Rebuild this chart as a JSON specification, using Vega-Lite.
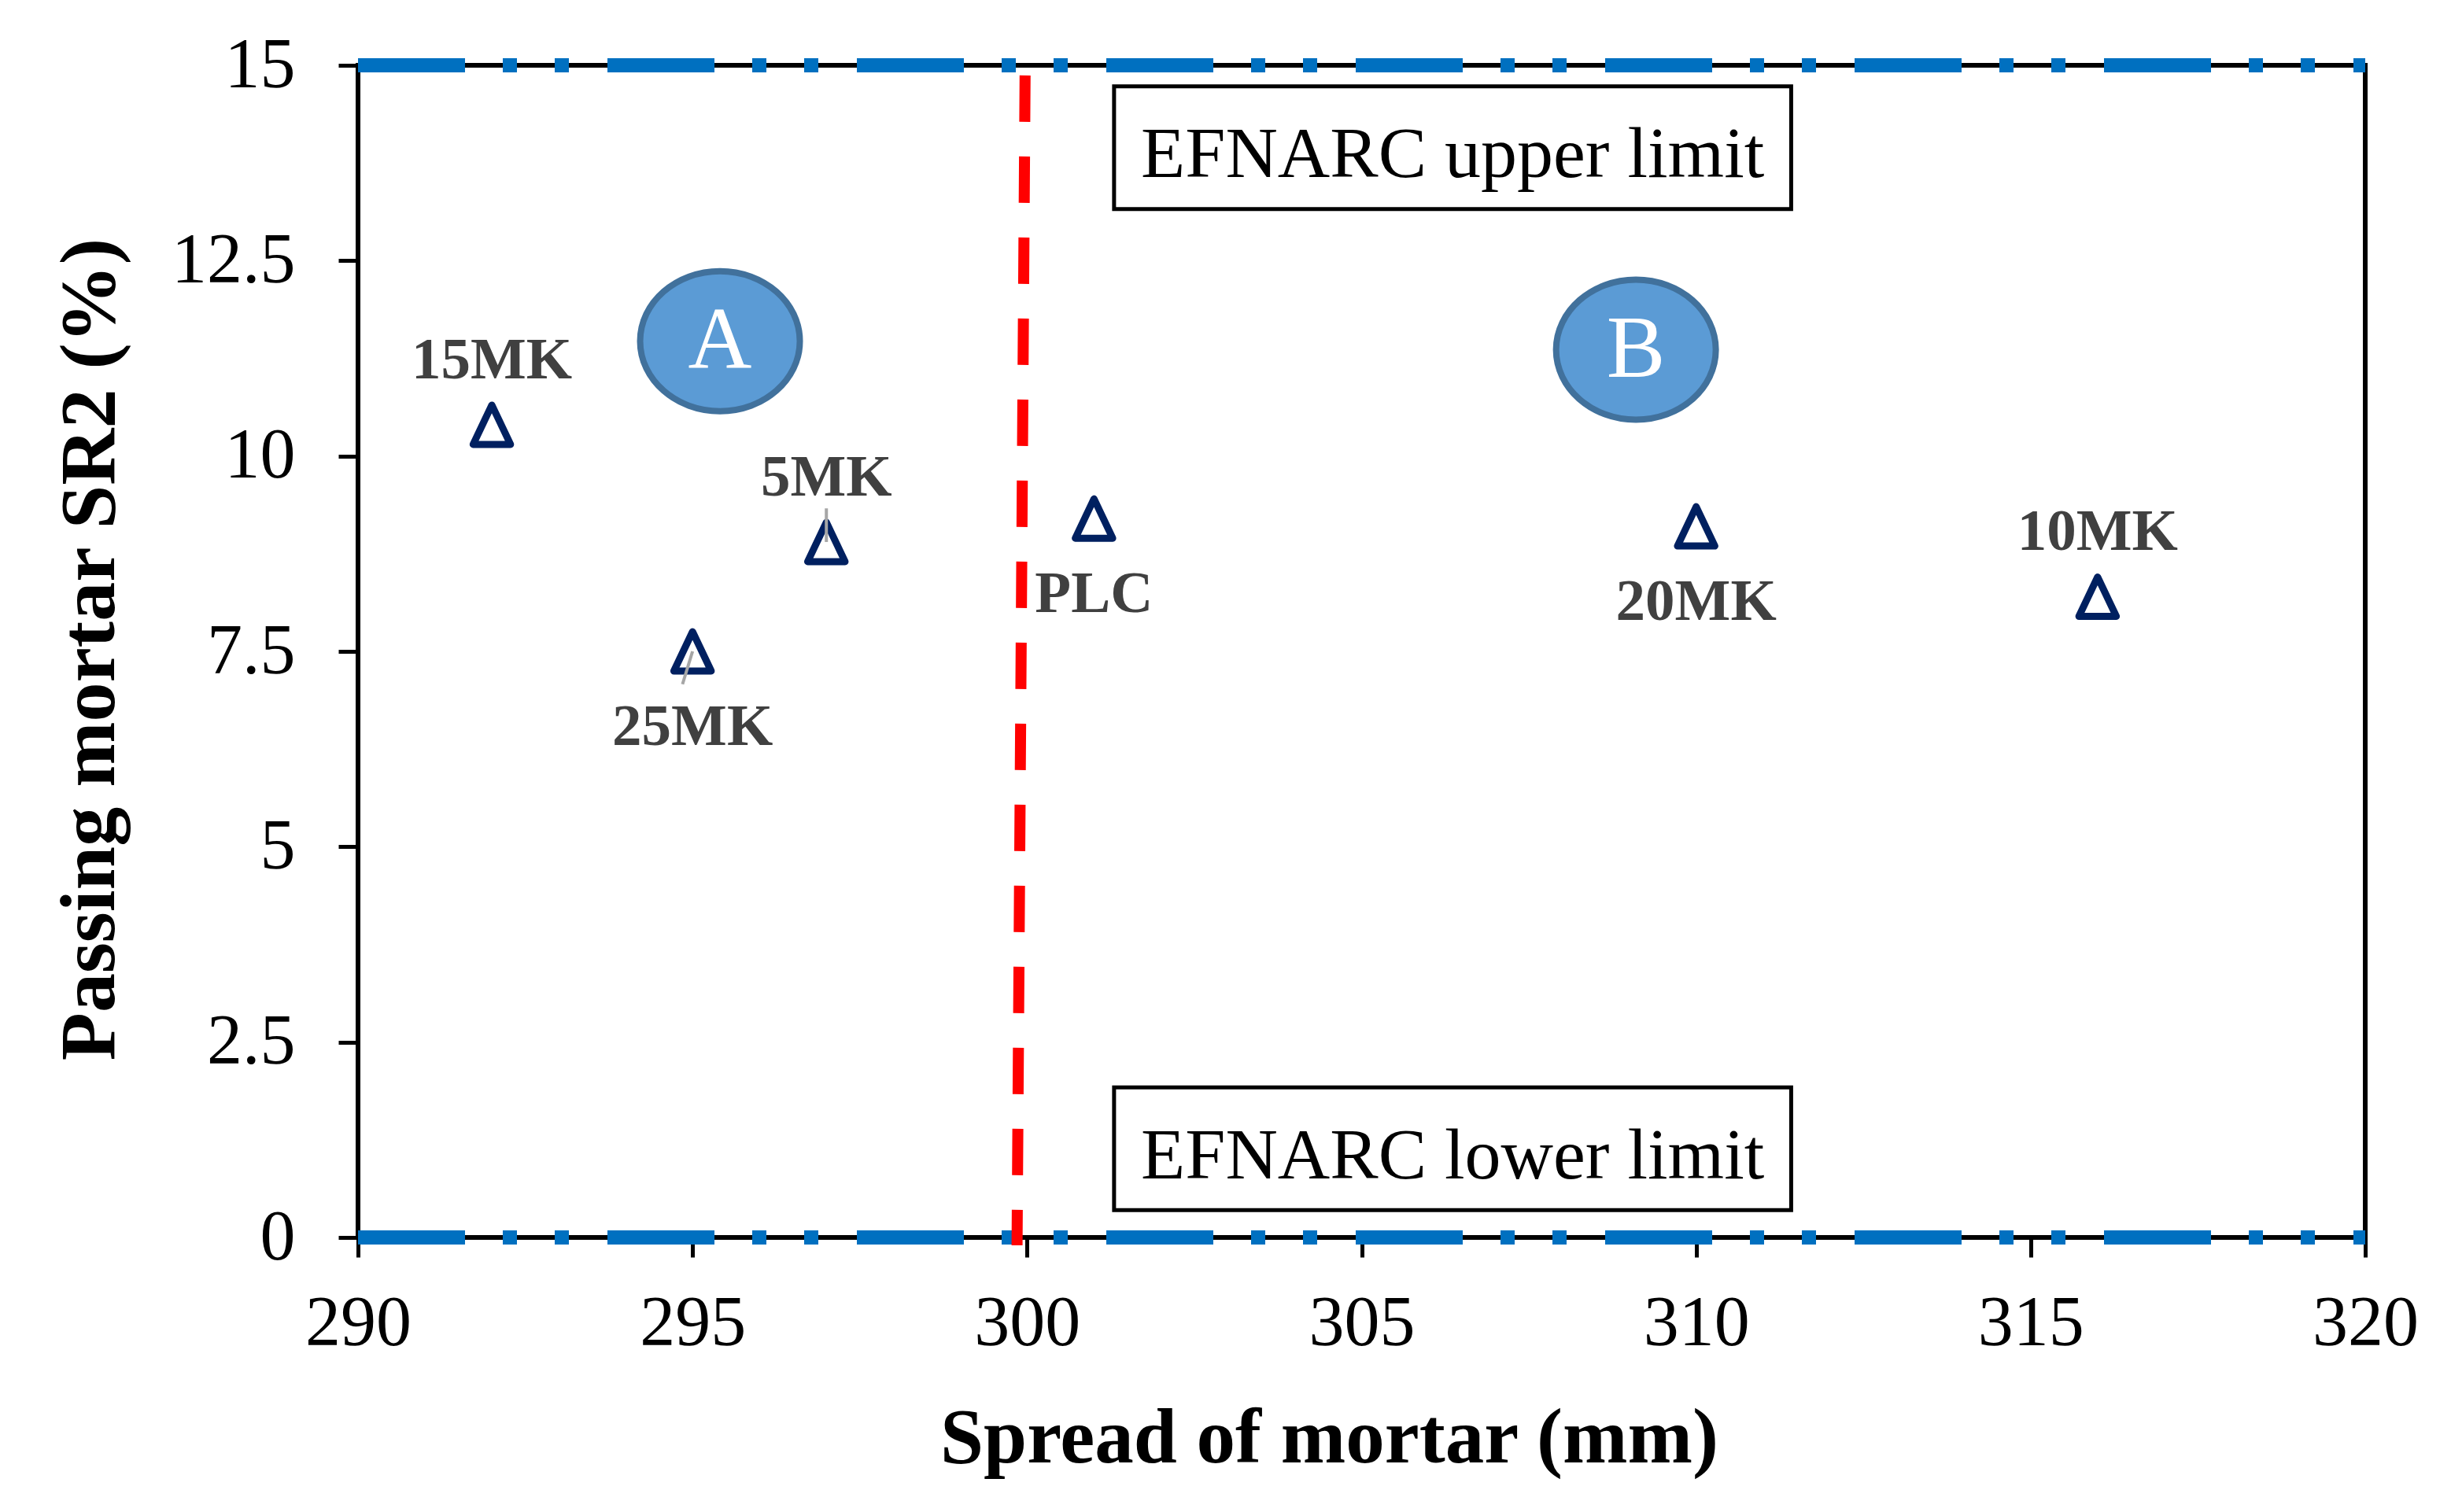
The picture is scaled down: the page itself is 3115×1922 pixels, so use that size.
{
  "$schema": "https://vega.github.io/schema/vega-lite/v6.json",
  "width": 2551,
  "height": 1490,
  "autosize": {"type": "none"},
  "padding": {"left": 455, "top": 83, "right": 109, "bottom": 349},
  "background": "white",
  "config": {
    "view": {"stroke": "black", "strokeWidth": 6},
    "font": "Liberation Serif",
    "text": {"font": "Liberation Serif"}
  },
  "datasets": {
    "points": [
      {"mix": "15MK", "spread": 292, "sr2": 10.4},
      {"mix": "25MK", "spread": 295, "sr2": 7.5},
      {"mix": "5MK", "spread": 297, "sr2": 8.9},
      {"mix": "PLC", "spread": 301, "sr2": 9.2},
      {"mix": "20MK", "spread": 310, "sr2": 9.1},
      {"mix": "10MK", "spread": 316, "sr2": 8.2}
    ],
    "errors": [
      {"mix": "5MK", "x1": 297, "x2": 297, "y1": 8.9, "y2": 9.33},
      {"mix": "25MK", "x1": 295, "x2": 294.85, "y1": 7.5, "y2": 7.08}
    ],
    "limits": [
      {"limit": "EFNARC upper limit", "sr2": 15},
      {"limit": "EFNARC lower limit", "sr2": 0}
    ],
    "boxes": [
      {"label": "EFNARC upper limit", "x1": 301.3, "x2": 311.42, "y1": 14.73, "y2": 13.16, "tx": 306.36, "ty": 13.57},
      {"label": "EFNARC lower limit", "x1": 301.3, "x2": 311.42, "y1": 1.92, "y2": 0.35, "tx": 306.36, "ty": 0.755}
    ],
    "zones": [
      {"zone": "A", "spread": 295.41, "sr2": 11.47},
      {"zone": "B", "spread": 309.1, "sr2": 11.36}
    ],
    "threshold": [
      {"x1": 299.97, "y1": 14.87, "x2": 299.85, "y2": -0.1}
    ]
  },
  "layer": [
    {
      "data": {"name": "boxes"},
      "mark": {"type": "rect", "fill": "white", "stroke": "black", "strokeWidth": 5},
      "encoding": {
        "x": {
          "field": "x1", "type": "quantitative",
          "scale": {"domain": [290, 320], "nice": false, "zero": false},
          "axis": {
            "values": [290, 295, 300, 305, 310, 315, 320],
            "format": "d",
            "domain": false, "grid": false,
            "ticks": true, "tickSize": 25, "tickWidth": 5, "tickColor": "black",
            "labelFont": "Liberation Serif", "labelFontSize": 90, "labelColor": "black",
            "labelPadding": 40, "labelFlush": false, "labelOverlap": false,
            "title": "Spread of mortar (mm)",
            "titleFont": "Liberation Serif", "titleFontSize": 99, "titleFontWeight": "bold",
            "titleColor": "black",
            "titleX": 1234, "titleY": 285, "titleAlign": "center", "titleBaseline": "alphabetic"
          }
        },
        "x2": {"field": "x2"},
        "y": {
          "field": "y1", "type": "quantitative",
          "scale": {"domain": [0, 15], "nice": false, "zero": false},
          "axis": {
            "values": [0, 2.5, 5, 7.5, 10, 12.5, 15],
            "format": "~g",
            "domain": false, "grid": false,
            "ticks": true, "tickSize": 25, "tickWidth": 5, "tickColor": "black",
            "labelFont": "Liberation Serif", "labelFontSize": 90, "labelColor": "black",
            "labelPadding": 55, "labelFlush": false, "labelOverlap": false,
            "title": "Passing mortar SR2 (%)",
            "titleFont": "Liberation Serif", "titleFontSize": 100, "titleFontWeight": "bold",
            "titleColor": "black", "titleAngle": -90,
            "titleX": -311, "titleY": 742, "titleAlign": "center", "titleBaseline": "alphabetic"
          }
        },
        "y2": {"field": "y2"}
      }
    },
    {
      "data": {"name": "boxes"},
      "mark": {"type": "text", "fontSize": 92, "color": "black", "align": "center", "baseline": "alphabetic", "font": "Liberation Serif"},
      "encoding": {
        "x": {"field": "tx", "type": "quantitative", "scale": {"domain": [290, 320]}},
        "y": {"field": "ty", "type": "quantitative", "scale": {"domain": [0, 15]}},
        "text": {"field": "label"}
      }
    },
    {
      "data": {"name": "limits"},
      "mark": {"type": "rule", "color": "#0070C0", "strokeWidth": 18, "strokeDash": [136, 48, 18, 48, 18, 49], "strokeCap": "butt", "clip": false},
      "encoding": {
        "x": {"datum": 290, "type": "quantitative", "scale": {"domain": [290, 320]}},
        "x2": {"datum": 320},
        "y": {"field": "sr2", "type": "quantitative", "scale": {"domain": [0, 15]}}
      }
    },
    {
      "data": {"name": "threshold"},
      "mark": {"type": "rule", "color": "#FF0000", "strokeWidth": 14, "strokeDash": [59, 44], "strokeCap": "butt", "clip": false},
      "encoding": {
        "x": {"field": "x1", "type": "quantitative", "scale": {"domain": [290, 320]}},
        "x2": {"field": "x2"},
        "y": {"field": "y1", "type": "quantitative", "scale": {"domain": [0, 15]}},
        "y2": {"field": "y2"}
      }
    },
    {
      "data": {"name": "zones"},
      "mark": {
        "type": "point",
        "shape": "M -1 0 C -1 -0.4844 -0.5523 -0.877 0 -0.877 C 0.5523 -0.877 1 -0.4844 1 0 C 1 0.4844 0.5523 0.877 0 0.877 C -0.5523 0.877 -1 0.4844 -1 0 Z",
        "size": 41209, "filled": true, "fill": "#5B9BD5", "stroke": "#41719C", "strokeWidth": 8, "opacity": 1, "fillOpacity": 1
      },
      "encoding": {
        "x": {"field": "spread", "type": "quantitative", "scale": {"domain": [290, 320]}},
        "y": {"field": "sr2", "type": "quantitative", "scale": {"domain": [0, 15]}}
      }
    },
    {
      "data": {"name": "zones"},
      "mark": {"type": "text", "fontSize": 112, "color": "white", "align": "center", "baseline": "middle", "font": "Liberation Serif"},
      "encoding": {
        "x": {"field": "spread", "type": "quantitative", "scale": {"domain": [290, 320]}},
        "y": {"field": "sr2", "type": "quantitative", "scale": {"domain": [0, 15]}},
        "text": {"field": "zone"}
      }
    },
    {
      "data": {"name": "points"},
      "mark": {"type": "point", "shape": "M 0 -1 L 0.95 1 L -0.95 1 Z", "size": 2500, "filled": false, "color": "#002060", "strokeWidth": 9, "strokeJoin": "round", "opacity": 1},
      "encoding": {
        "x": {"field": "spread", "type": "quantitative", "scale": {"domain": [290, 320]}},
        "y": {"field": "sr2", "type": "quantitative", "scale": {"domain": [0, 15]}}
      }
    },
    {
      "data": {"name": "errors"},
      "mark": {"type": "rule", "color": "#A6A6A6", "strokeWidth": 4},
      "encoding": {
        "x": {"field": "x1", "type": "quantitative", "scale": {"domain": [290, 320]}},
        "x2": {"field": "x2"},
        "y": {"field": "y1", "type": "quantitative", "scale": {"domain": [0, 15]}},
        "y2": {"field": "y2"}
      }
    },
    {
      "data": {"name": "points"},
      "transform": [{"filter": "indexof(['15MK', '5MK', '10MK'], datum.mix) >= 0"}],
      "mark": {"type": "text", "fontSize": 75, "fontWeight": "bold", "color": "#404040", "align": "center", "baseline": "middle", "dy": -82, "font": "Liberation Serif"},
      "encoding": {
        "x": {"field": "spread", "type": "quantitative", "scale": {"domain": [290, 320]}},
        "y": {"field": "sr2", "type": "quantitative", "scale": {"domain": [0, 15]}},
        "text": {"field": "mix"}
      }
    },
    {
      "data": {"name": "points"},
      "transform": [{"filter": "indexof(['25MK', 'PLC', '20MK'], datum.mix) >= 0"}],
      "mark": {"type": "text", "fontSize": 75, "fontWeight": "bold", "color": "#404040", "align": "center", "baseline": "middle", "dy": 96, "font": "Liberation Serif"},
      "encoding": {
        "x": {"field": "spread", "type": "quantitative", "scale": {"domain": [290, 320]}},
        "y": {"field": "sr2", "type": "quantitative", "scale": {"domain": [0, 15]}},
        "text": {"field": "mix"}
      }
    }
  ]
}
